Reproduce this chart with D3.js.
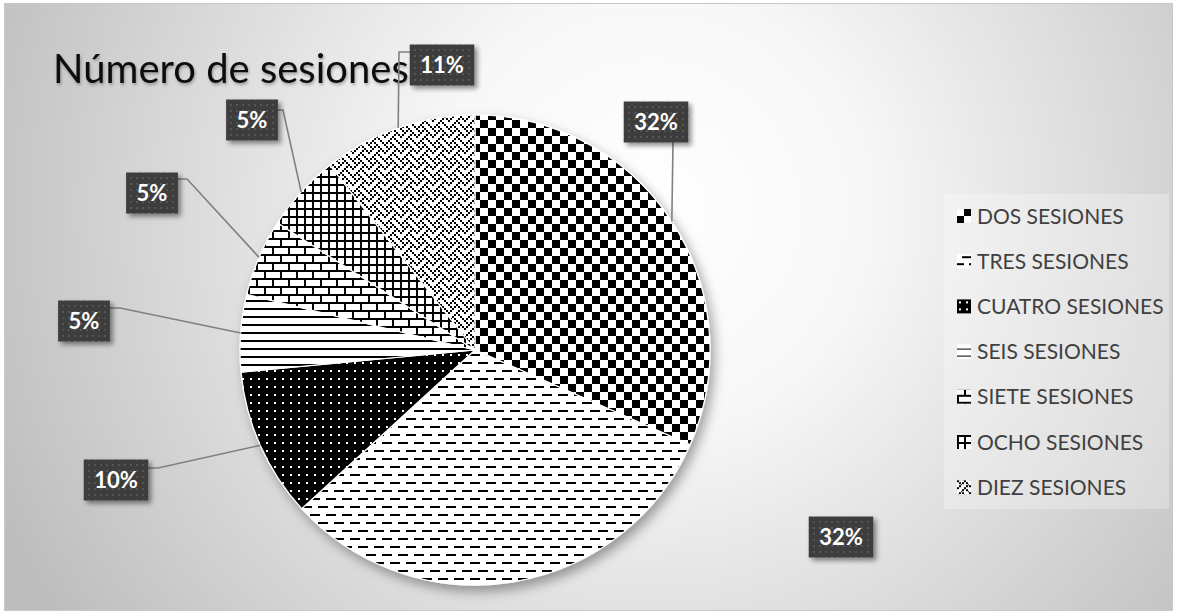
<!DOCTYPE html>
<html>
<head>
<meta charset="utf-8">
<script src="https://cdn.jsdelivr.net/npm/d3@7"></script>
<style>
  html, body { margin: 0; padding: 0; background: #ffffff; }
  svg { display: block; }
  text { font-family: Lato, "Open Sans", sans-serif; }
</style>
</head>
<body>
<div id="chart"></div>
<script>
// ---------------- data ----------------
const title = "Número de sesiones";
const categories = ["DOS SESIONES", "TRES SESIONES", "CUATRO SESIONES", "SEIS SESIONES",
                    "SIETE SESIONES", "OCHO SESIONES", "DIEZ SESIONES"];
const values = [31.6, 31.6, 10.3, 5.3, 5.3, 5.3, 10.6];

// ---------------- layout / style ----------------
const W = 1177, H = 615;
const cx = 475, cy = 350, R = 235;

// 8x8 fill patterns (bit set = black), one per category
const patternBits = [
  [0x0F,0x0F,0x0F,0x0F,0xF0,0xF0,0xF0,0xF0],           // large checkerboard
  [0x00,0x1F,0x00,0x00,0x00,0xF1,0x00,0x00],           // dashed horizontal
  [0xFF,0xBB,0xFF,0xFF,0xFF,0xBB,0xFF,0xFF],           // black with white dots
  [0x00,0x00,0xFF,0x00,0x00,0x00,0xFF,0x00],           // horizontal lines
  [0x08,0x08,0x08,0xFF,0x80,0x80,0x80,0xFF],           // horizontal brick
  [0xFF,0x88,0x88,0x88,0xFF,0x88,0x88,0x88],           // small grid
  [0x88,0x54,0x22,0x45,0x88,0x14,0x22,0x51]            // weave
];

// label box centres and leader start/elbow points (layout)
const labelLayout = [
  {c:[656,122],  lead:[[673,142]]},
  {c:[841,537],  lead:null},
  {c:[116,480],  lead:[[148,468],[158,468]]},
  {c:[84,321],   lead:[[109,308],[120,308]]},
  {c:[152,193],  lead:[[177,179],[187,179]]},
  {c:[252,120],  lead:[[277,110],[283,110]]},
  {c:[442,65],   lead:[[412,52],[399,52]]}
];

const legendX = 957, legendY0 = 216, legendStep = 45.2;

// ---------------- drawing ----------------
const svg = d3.select("#chart").append("svg").attr("width", W).attr("height", H);
const defs = svg.append("defs");

const bg = defs.append("radialGradient").attr("id","bg").attr("gradientUnits","userSpaceOnUse")
  .attr("cx",650).attr("cy",210).attr("r",720);
bg.append("stop").attr("offset",0).attr("stop-color","#ffffff");
bg.append("stop").attr("offset",0.3).attr("stop-color","#f7f7f7");
bg.append("stop").attr("offset",1).attr("stop-color","#bdbdbd");

function makePattern(id, bits, scale, x0, y0, fg, bgc) {
  const s = 8*scale;
  const p = defs.append("pattern").attr("id", id).attr("patternUnits","userSpaceOnUse")
    .attr("x", x0).attr("y", y0).attr("width", s).attr("height", s);
  p.append("rect").attr("width", s).attr("height", s).attr("fill", bgc);
  bits.forEach((row, r) => {
    for (let c = 0; c < 8; c++) {
      if (row & (0x80 >> c)) {
        p.append("rect").attr("x", c*scale).attr("y", r*scale)
          .attr("width", scale).attr("height", scale).attr("fill", fg)
          .attr("shape-rendering","crispEdges");
      }
    }
  });
}
patternBits.forEach((b, i) => makePattern("pat"+i, b, 2, 0, 0, "#000", "#fff"));

// label box texture
const lp = defs.append("pattern").attr("id","lblpat").attr("patternUnits","userSpaceOnUse")
  .attr("width",6).attr("height",6);
lp.append("rect").attr("width",6).attr("height",6).attr("fill","#3d3d3d");
lp.append("rect").attr("x",2).attr("y",2).attr("width",2).attr("height",2).attr("fill","#555555");

const pieShadow = defs.append("filter").attr("id","pieShadow")
  .attr("x","-20%").attr("y","-20%").attr("width","140%").attr("height","140%");
pieShadow.append("feDropShadow").attr("dx",4).attr("dy",6).attr("stdDeviation",6)
  .attr("flood-color","#000").attr("flood-opacity",0.35);

const boxShadow = defs.append("filter").attr("id","boxShadow")
  .attr("x","-30%").attr("y","-30%").attr("width","160%").attr("height","160%");
boxShadow.append("feDropShadow").attr("dx",3).attr("dy",3).attr("stdDeviation",2.5)
  .attr("flood-color","#000").attr("flood-opacity",0.45);

const txtShadow = defs.append("filter").attr("id","txtShadow")
  .attr("x","-10%").attr("y","-30%").attr("width","120%").attr("height","160%");
txtShadow.append("feDropShadow").attr("dx",1).attr("dy",2).attr("stdDeviation",1.5)
  .attr("flood-color","#000").attr("flood-opacity",0.3);

// background
svg.append("rect").attr("x",4.5).attr("y",3.5).attr("width",W-9).attr("height",H-8)
  .attr("fill","url(#bg)").attr("stroke","#c8c8c8").attr("stroke-width",1);

// title
svg.append("text").attr("x",53).attr("y",83).attr("font-size",40).attr("fill","#0d0d0d")
  .attr("filter","url(#txtShadow)").text(title);

// pie
const total = d3.sum(values);
const pie = d3.pie().sort(null).value(d => d)(values);
const gPie = svg.append("g").attr("filter","url(#pieShadow)");
gPie.selectAll("path").data(pie).join("path")
  .attr("fill", (d,i) => `url(#pat${i})`)
  .attr("stroke","#ffffff").attr("stroke-width",1.2)
  .attr("d", d => {
    // absolute coordinates so patterns align to the page
    const p = d3.path();
    const a0 = d.startAngle - Math.PI/2, a1 = d.endAngle - Math.PI/2;
    p.moveTo(cx, cy);
    p.lineTo(cx + R*Math.cos(a0), cy + R*Math.sin(a0));
    p.arc(cx, cy, R, a0, a1);
    p.closePath();
    return p.toString();
  });

// leader lines
const gLead = svg.append("g");
pie.forEach((d, i) => {
  const L = labelLayout[i];
  if (!L.lead) return;
  const m = (d.startAngle + d.endAngle)/2;
  const end = [cx + R*Math.sin(m), cy - R*Math.cos(m)];
  const pts = L.lead.concat([end]);
  gLead.append("path").attr("d", d3.line()(pts))
    .attr("fill","none").attr("stroke","#808080").attr("stroke-width",1.6);
});

// data labels
const gLbl = svg.append("g");
pie.forEach((d, i) => {
  const L = labelLayout[i];
  const txt = Math.round(d.data / total * 100) + "%";
  const g = gLbl.append("g").attr("transform",`translate(${L.c[0]},${L.c[1]})`);
  const t = g.append("text").attr("text-anchor","middle").attr("dy","0.36em")
    .attr("font-size",22).attr("font-weight","bold").attr("fill","#ffffff").text(txt);
  const bw = t.node().getComputedTextLength() + 21;
  g.insert("rect","text").attr("x",-bw/2).attr("y",-20.5).attr("width",bw).attr("height",41)
    .attr("fill","url(#lblpat)").attr("filter","url(#boxShadow)");
});

// legend
svg.append("rect").attr("x",944).attr("y",194).attr("width",225).attr("height",315)
  .attr("fill","#ffffff").attr("fill-opacity",0.28);
const gLeg = svg.append("g");
categories.forEach((c, i) => {
  const y = legendY0 + i*legendStep;
  makePattern("icon"+i, patternBits[i], 1.75, legendX, y-7, "#000", "#fff");
  gLeg.append("rect").attr("x",legendX).attr("y",y-7).attr("width",14).attr("height",14)
    .attr("fill",`url(#icon${i})`);
  gLeg.append("text").attr("x",legendX+20).attr("y",y).attr("dy","0.36em")
    .attr("font-size",21).attr("fill","#404040").text(c);
});
</script>
</body>
</html>
